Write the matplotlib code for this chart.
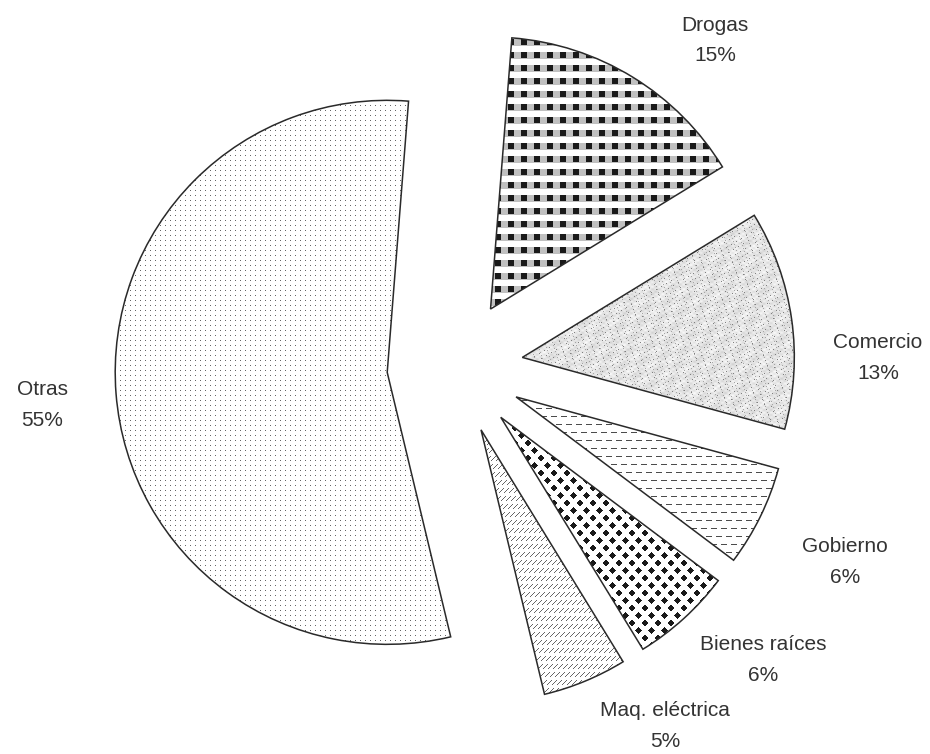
import numpy as np
import matplotlib
matplotlib.use("Agg")
import matplotlib.pyplot as plt

# Sector shares (%), listed counter-clockwise starting at the lower edge of "Otras"
sectors = ["Maq. eléctrica", "Bienes raíces", "Gobierno", "Comercio", "Drogas", "Otras"]
shares = [5, 6, 6, 13, 15, 55]

# label anchor points (data units, pie radius = 1)
label_xy = [(0.772, -1.320), (1.132, -1.077), (1.434, -0.717),
            (1.555, 0.033), (0.956, 1.199), (-1.518, -0.140)]

W, H = 930, 754
CX, CY, R = 455, 367, 272  # pie centre and radius in pixels


def make_patterns():
    """Grey-level fill textures, one per wedge, on the figure pixel grid."""
    Y, X = np.mgrid[0:H, 0:W]
    pats = []

    # Maq. electrica: short "/" slashes in rows
    p = np.ones((H, W))
    p[(Y % 8 < 5) & ((X + Y) % 5 == 0)] = 0.4
    pats.append(p)

    # Bienes raices: black diamonds
    p = np.ones((H, W))
    j = np.round(Y / 7.5)
    off = 6.5 * (j % 2)
    dx = ((X - off + 6.5) % 13) - 6.5
    dy = Y - 7.5 * j
    p[np.abs(dx) + np.abs(dy) <= 3.8] = 0.1
    pats.append(p)

    # Gobierno: short horizontal dashes
    p = np.ones((H, W))
    row = Y // 8
    p[(Y % 8 == 0) & (((X + 5 * (row % 2)) % 10) < 6)] = 0.3
    pats.append(p)

    # Comercio: light mottled grey
    p = (0.9 + 0.04 * np.sin(X * 0.9) * np.sin(Y * 1.3)
         + 0.04 * np.sin(X * 0.23 + Y * 0.31) * np.cos(Y * 0.17 - X * 0.11))
    p[(X * 7 + Y * 13) % 23 == 0] = 0.65
    p[(X * 3 + Y * 5) % 31 == 0] = 0.5
    pats.append(p)

    # Drogas: dark squares sitting on grey bands
    p = np.ones((H, W))
    p[(Y % 13) < 7] = 0.75
    p[((Y % 13) < 6) & ((X % 13) < 6)] = 0.1
    pats.append(p)

    # Otras: fine grey dots
    p = np.ones((H, W))
    p[(X % 5 == 0) & (Y % 5 == 0)] = 0.4
    pats.append(p)
    return pats


def main():
    fig = plt.figure(figsize=(W / 100, H / 100), dpi=100)
    ax = fig.add_axes([0, 0, 1, 1])

    wedges, _ = ax.pie(shares, explode=[0.25] * len(shares), startangle=-76.5,
                       radius=1,
                       wedgeprops=dict(facecolor="none", edgecolor="#2a2a2a",
                                       linewidth=1.1, zorder=3))

    xlim = (-CX / R, (W - CX) / R)
    ylim = (-(H - CY) / R, CY / R)
    extent = (xlim[0], xlim[1], ylim[0], ylim[1])

    for w, pat in zip(wedges, make_patterns()):
        im = ax.imshow(pat, cmap="gray", vmin=0, vmax=1, extent=extent,
                       origin="upper", interpolation="nearest", aspect="auto",
                       zorder=2)
        im.set_clip_path(w)

    for name, pct, (x, y) in zip(sectors, shares, label_xy):
        ax.text(x, y, f"{name}\n{pct}%", ha="center", va="center",
                fontsize=15, family="Liberation Sans", color="#333333",
                linespacing=1.75)

    ax.set_xlim(xlim)
    ax.set_ylim(ylim)
    ax.set_aspect("auto")
    ax.axis("off")

    fig.savefig("out.png", dpi=100)
    plt.close(fig)


if __name__ == "__main__":
    main()
